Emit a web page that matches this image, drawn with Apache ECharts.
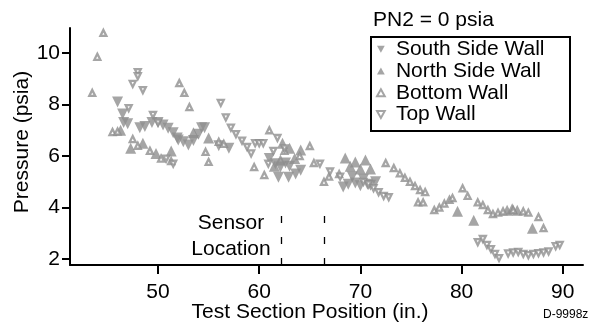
<!DOCTYPE html>
<html><head><meta charset="utf-8">
<script src="https://cdn.jsdelivr.net/npm/echarts@6/dist/echarts.min.js"></script>
<style>html,body{margin:0;padding:0;background:#fff}#c{width:592px;height:328px}</style>
</head><body><div id="c"></div>
<script>
// ---- Data ----
const xTicks = [50, 60, 70, 80, 90];
const yTicks = [2, 4, 6, 8, 10];
const sensorX = [62.2, 66.4];

const southX = [46.0,46.5,46.6,47.0,48.2,48.7,49.4,50.0,50.5,51.0,51.5,51.9,52.0,52.5,53.0,53.5,54.0,54.3,54.6,56.0,57.0,61.0,61.6,62.1,61.9,62.6,63.0,62.9,63.6,64.1,68.3,68.8,69.5,70.0,70.7,71.0,69.2,70.3,71.5];
const southY = [8.1,7.63,7.3,7.25,7.1,7.15,7.3,7.3,7.2,7.08,6.9,6.7,6.62,6.55,6.43,6.6,6.85,7.1,7.1,6.4,6.3,5.9,5.7,5.57,5.18,5.73,5.6,5.18,5.3,5.45,4.8,4.9,4.95,4.85,4.9,4.87,5.2,5.1,5.0];

const northX = [46.3,47.3,48.5,49.8,51.3,53.5,55.0,61.5,62.1,62.3,63.0,64.1,63.5,68.5,69.0,69.5,70.0,70.5,71.0,79.6,81.2,84.5,85.0,85.5,87.0];
const northY = [7.0,6.3,6.5,6.1,6.2,6.9,6.7,5.6,5.85,6.5,6.3,6.23,5.9,5.92,5.6,5.77,5.5,5.85,5.5,3.86,3.51,3.9,3.95,3.9,3.2];

const bottomX = [43.5,44.0,44.6,45.5,46.0,47.5,48.0,49.2,50.3,51.3,52.1,52.6,53.1,54.7,55.0,56.0,56.5,59.5,60.5,61.0,62.5,64.0,65.0,65.4,66.4,66.9,67.9,72.5,73.3,73.9,74.4,74.9,75.4,75.9,76.4,75.7,76.2,77.3,77.8,78.3,78.8,79.1,80.1,80.6,81.6,82.1,82.6,83.1,83.6,84.1,85.1,86.1,86.6,87.6,88.1];
const bottomY = [8.45,9.85,10.78,6.93,6.95,6.66,6.4,6.2,5.9,5.8,8.83,8.45,7.9,6.16,5.77,6.55,6.47,5.57,5.26,7.0,6.2,6.0,6.39,5.73,5.0,5.2,5.3,5.73,5.53,5.33,5.15,5.0,4.83,4.68,4.6,4.2,4.2,3.9,4.0,4.15,4.3,4.37,4.75,4.45,4.2,4.1,3.9,3.75,3.8,3.85,3.9,3.85,3.8,3.63,3.2];

const topX = [47.1,47.5,48.0,48.0,48.5,49.5,50.0,50.8,51.5,56.2,56.7,57.2,57.7,58.3,58.8,59.2,59.6,60.0,60.4,61.8,61.4,60.9,62.5,66.0,67.0,68.0,70.3,70.8,71.3,71.8,72.3,72.8,81.6,82.1,82.5,82.9,83.3,83.7,84.6,85.1,85.6,86.1,86.6,87.1,87.6,88.1,88.6,89.3,89.7];
const topY = [7.86,8.8,9.26,9.1,8.56,7.6,7.3,5.9,5.7,8.06,7.5,7.1,6.85,6.6,6.35,6.1,6.5,6.5,6.5,6.7,6.2,5.7,6.3,5.7,5.4,5.2,5.0,4.9,4.75,4.6,4.45,4.4,2.66,2.78,2.55,2.39,2.2,2.04,2.22,2.26,2.28,2.2,2.15,2.2,2.23,2.26,2.3,2.5,2.55];

// ---- Build ----
const zip = (a, b) => a.map((v, i) => [v, b[i]]);
const GRAY = '#8e8e8e';
const FONT = 'Liberation Sans, Arial, Helvetica, sans-serif';
const DOWN = 'path://M0,0L10,0L5,9Z';
const UP = 'path://M5,0L10,9L0,9Z';

const chart = echarts.init(document.getElementById('c'), null, {renderer: 'canvas'});
chart.setOption({
  animation: false,
  textStyle: {fontFamily: FONT},
  grid: {left: 70, right: 9, top: 28, bottom: 63},
  xAxis: {
    type: 'value', min: 41.3, max: 92,
    axisLine: {show: true, onZero: false, lineStyle: {color: '#000', width: 2}},
    axisTick: {show: true, length: 9, lineStyle: {color: '#000', width: 2}, customValues: xTicks},
    axisLabel: {fontSize: 21, color: '#000', margin: 17, fontFamily: FONT, customValues: xTicks},
    splitLine: {show: false}
  },
  yAxis: {
    type: 'value', min: 1.77, max: 10.97,
    axisLine: {show: true, onZero: false, lineStyle: {color: '#000', width: 2}},
    axisTick: {show: true, length: 8, lineStyle: {color: '#000', width: 2}, customValues: yTicks},
    axisLabel: {fontSize: 21, color: '#000', margin: 10, fontFamily: FONT, customValues: yTicks},
    splitLine: {show: false}
  },
  legend: {
    orient: 'vertical', left: 376, top: 38.5, itemWidth: 20, itemHeight: 7, itemGap: 0, padding: 0,
    textStyle: {fontSize: 21, color: '#000', fontFamily: FONT, lineHeight: 21.7},
    data: ['South Side Wall', 'North Side Wall', 'Bottom Wall', 'Top Wall']
  },
  graphic: [
    {type: 'rect', shape: {x: 371, y: 37, width: 199, height: 94}, style: {fill: 'none', stroke: '#000', lineWidth: 2}, z: 10},
    {type: 'text', x: 373, y: 20, style: {text: 'PN2 = 0 psia', fontSize: 21, fill: '#000', fontFamily: FONT, textVerticalAlign: 'middle'}},
    {type: 'text', x: 231, y: 223, style: {text: 'Sensor', fontSize: 21, fill: '#000', fontFamily: FONT, textAlign: 'center', textVerticalAlign: 'middle'}},
    {type: 'text', x: 231, y: 249, style: {text: 'Location', fontSize: 21, fill: '#000', fontFamily: FONT, textAlign: 'center', textVerticalAlign: 'middle'}},
    {type: 'text', x: 310, y: 312, style: {text: 'Test Section Position (in.)', fontSize: 21, fill: '#000', fontFamily: FONT, textAlign: 'center', textVerticalAlign: 'middle'}},
    {type: 'text', x: 22, y: 142, rotation: Math.PI / 2, style: {text: 'Pressure (psia)', fontSize: 21, fill: '#000', fontFamily: FONT, textAlign: 'center', textVerticalAlign: 'middle'}},
    {type: 'text', x: 543, y: 315, style: {text: 'D-9998z', fontSize: 12, fill: '#000', fontFamily: FONT, textVerticalAlign: 'middle'}}
  ],
  series: [
    {name: 'South Side Wall', type: 'scatter', symbol: DOWN, symbolSize: 11,
     itemStyle: {color: GRAY}, data: zip(southX, southY),
     markLine: {silent: true, symbol: 'none', label: {show: false},
       lineStyle: {color: '#000', type: [7, 14], width: 1.3},
       data: sensorX.map(x => [{coord: [x, 3.67]}, {coord: [x, 1.77]}])}},
    {name: 'North Side Wall', type: 'scatter', symbol: UP, symbolSize: 11,
     itemStyle: {color: GRAY}, data: zip(northX, northY)},
    {name: 'Bottom Wall', type: 'scatter', symbol: UP, symbolSize: 6,
     itemStyle: {color: '#fff', borderColor: GRAY, borderWidth: 2.3}, data: zip(bottomX, bottomY)},
    {name: 'Top Wall', type: 'scatter', symbol: DOWN, symbolSize: 6,
     itemStyle: {color: '#fff', borderColor: GRAY, borderWidth: 2.3}, data: zip(topX, topY)}
  ]
});
</script></body></html>
